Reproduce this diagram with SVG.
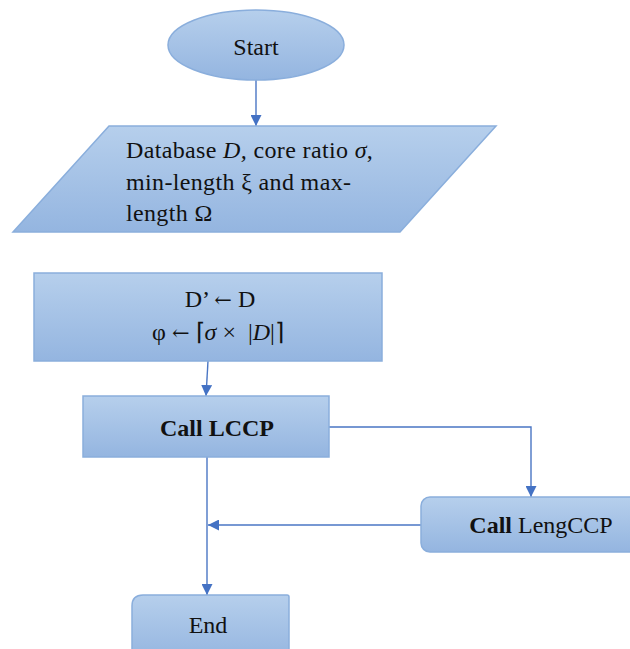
<svg xmlns="http://www.w3.org/2000/svg" width="630" height="649" viewBox="0 0 630 649">
<defs>
<linearGradient id="g" x1="0" y1="0" x2="0" y2="1">
<stop offset="0" stop-color="#b6cfec"/>
<stop offset="1" stop-color="#94b5e0"/>
</linearGradient>
<marker id="ah" viewBox="0 0 10 10" refX="10" refY="5" markerWidth="11" markerHeight="11" markerUnits="userSpaceOnUse" orient="auto">
<path d="M0,0 L10,5 L0,10 z" fill="#4472c4"/>
</marker>
<clipPath id="pc"><polygon points="109,126 496,126 402,226 15,226"/></clipPath>
</defs>
<style>
.shape{fill:url(#g);stroke:#8aaedc;stroke-width:1.5}
.t{font-family:"Liberation Serif","Times New Roman",serif;font-size:24px;fill:#111}
.p{letter-spacing:0.35px}
.ar{font-family:"DejaVu Serif",serif;font-size:21px}
.c{fill:none;stroke:#4a76c4;stroke-width:1.4;marker-end:url(#ah)}
</style>
<rect width="630" height="649" fill="#fff"/>
<g id="connectors">
<line class="c" x1="256" y1="80" x2="256" y2="126"/>
<line class="c" x1="208" y1="361" x2="206" y2="396"/>
<polyline class="c" points="329,427 531,427 531,497"/>
<line class="c" x1="421" y1="525" x2="208" y2="525"/>
<line class="c" x1="207" y1="457" x2="207" y2="595"/>
</g>
<g id="start">
<ellipse class="shape" cx="256" cy="45" rx="88" ry="35"/>
<text class="t" x="256" y="55" text-anchor="middle">Start</text>
</g>
<g id="input">
<polygon class="shape" points="109,126 496,126 400,232 13,232"/>
<g clip-path="url(#pc)">
<text class="t p" x="126" y="158">Database <tspan font-style="italic">D,</tspan> core ratio <tspan font-style="italic">σ</tspan>,</text>
<text class="t p" x="126" y="190">min-length ξ and max-</text>
<text class="t p" x="126" y="221">length Ω</text>
</g>
</g>
<g id="init">
<rect class="shape" x="34" y="273" width="348" height="88"/>
<text class="t" x="220" y="307" text-anchor="middle">D’ <tspan class="ar">←</tspan> D</text>
<text class="t" x="218" y="340" text-anchor="middle">φ <tspan class="ar">←</tspan> ⌈<tspan font-style="italic">σ</tspan> ×&#160;&#160;|<tspan font-style="italic">D</tspan>|⌉</text>
</g>
<g id="lccp">
<rect class="shape" x="83" y="396" width="246" height="61"/>
<text class="t" x="217" y="436" text-anchor="middle" font-weight="bold">Call LCCP</text>
</g>
<g id="lengccp">
<rect class="shape" x="421" y="497" width="230" height="55" rx="9"/>
<text class="t" x="541" y="533" text-anchor="middle"><tspan font-weight="bold">Call</tspan> LengCCP</text>
</g>
<g id="end">
<path class="shape" d="M132,660 L132,606 Q132,595 143,595 L287,595 Q289,595 289,597 L289,660 Z"/>
<text class="t" x="208" y="633" text-anchor="middle">End</text>
</g>
</svg>
